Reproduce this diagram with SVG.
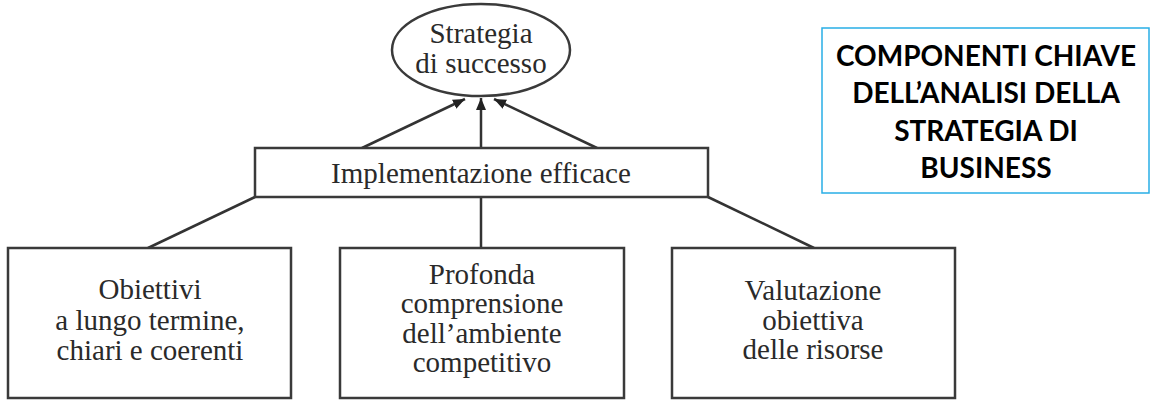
<svg xmlns="http://www.w3.org/2000/svg" width="1156" height="405" viewBox="0 0 1156 405">
<style>
.n{fill:#fff;stroke:#3a3a3a;stroke-width:2.5}
.t{font-family:"Liberation Serif",serif;font-size:29px;fill:#2a2a2a;text-anchor:middle}
.c{stroke:#333;stroke-width:2.5;fill:none}
.h{font-family:Lato,"Open Sans",sans-serif;font-weight:bold;font-size:28px;fill:#000;text-anchor:middle}
</style>
<defs>
<marker id="ah" viewBox="0 0 12 10" refX="12" refY="5" markerWidth="12" markerHeight="10" markerUnits="userSpaceOnUse" orient="auto">
<path d="M0,0 L12,5 L0,10 Z" fill="#222"/>
</marker>
</defs>
<rect width="1156" height="405" fill="#fff"/>
<g id="connectors">
<line class="c" x1="362" y1="148" x2="465" y2="99" marker-end="url(#ah)"/>
<line class="c" x1="481" y1="148" x2="481" y2="98" marker-end="url(#ah)"/>
<line class="c" x1="597" y1="148" x2="494" y2="99" marker-end="url(#ah)"/>
<line class="c" x1="255" y1="197" x2="148" y2="248"/>
<line class="c" x1="481" y1="197" x2="481" y2="248"/>
<line class="c" x1="708" y1="197" x2="814" y2="248"/>
</g>
<g id="strategia">
<ellipse class="n" cx="481" cy="50" rx="89" ry="46"/>
<text class="t" x="481" y="43">Strategia</text>
<text class="t" x="481" y="73">di successo</text>
</g>
<g id="implementazione">
<rect class="n" x="255" y="148" width="453" height="49"/>
<text class="t" x="481" y="183">Implementazione efficace</text>
</g>
<g id="obiettivi">
<rect class="n" x="8" y="248" width="283" height="150"/>
<text class="t" x="150" y="299">Obiettivi</text>
<text class="t" x="150" y="330">a lungo termine,</text>
<text class="t" x="150" y="360">chiari e coerenti</text>
</g>
<g id="profonda">
<rect class="n" x="340" y="248" width="284" height="150"/>
<text class="t" x="482" y="284">Profonda</text>
<text class="t" x="482" y="313">comprensione</text>
<text class="t" x="482" y="343">dell’ambiente</text>
<text class="t" x="482" y="372">competitivo</text>
</g>
<g id="valutazione">
<rect class="n" x="672" y="248" width="283" height="150"/>
<text class="t" x="813" y="300">Valutazione</text>
<text class="t" x="813" y="330">obiettiva</text>
<text class="t" x="813" y="359">delle risorse</text>
</g>
<g id="titolo">
<rect x="822" y="28" width="327" height="165" fill="#fff" stroke="#29aee6" stroke-width="1.5"/>
<text class="h" x="986" y="66">COMPONENTI CHIAVE</text>
<text class="h" x="986" y="103">DELL’ANALISI DELLA</text>
<text class="h" x="986" y="141">STRATEGIA DI</text>
<text class="h" x="986" y="178">BUSINESS</text>
</g>
</svg>
